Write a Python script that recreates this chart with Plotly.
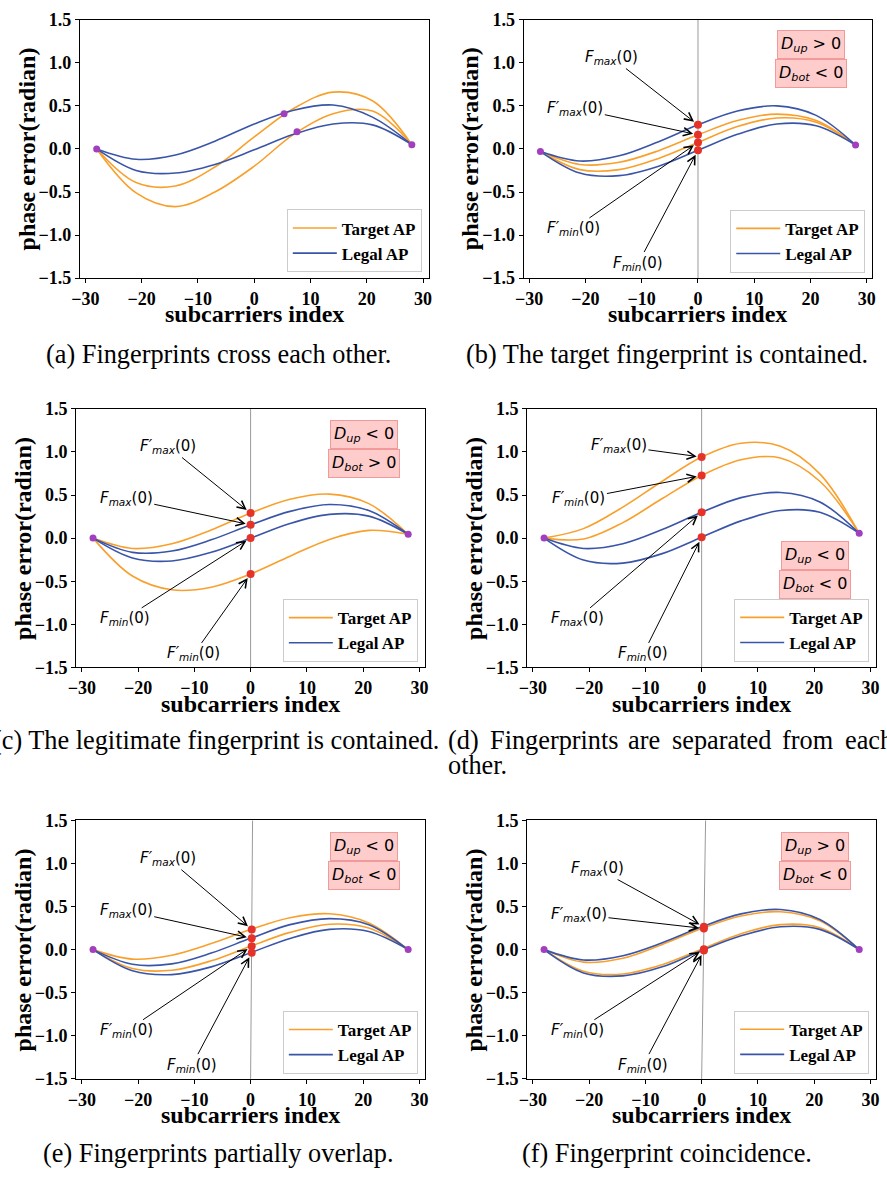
import plotly.graph_objects as go

W, H = 887, 1182

# ---------------- data ----------------
SUBCARRIERS = [-28, -21, -14, -7, 0, 7, 14, 21, 28]
X_TICKS = [-30, -20, -10, 0, 10, 20, 30]
Y_TICKS = [-1.5, -1.0, -0.5, 0.0, 0.5, 1.0, 1.5]

# (a) Fingerprints cross each other
A_TARGET_1 = [0.00, -0.39, -0.43, -0.21, 0.14, 0.47, 0.66, 0.56, 0.05]
A_TARGET_2 = [0.00, -0.51, -0.67, -0.50, -0.20, 0.17, 0.41, 0.44, 0.05]
A_LEGAL_1 = [0.00, -0.12, -0.07, 0.09, 0.29, 0.45, 0.51, 0.37, 0.05]
A_LEGAL_2 = [0.00, -0.25, -0.28, -0.18, -0.01, 0.17, 0.29, 0.28, 0.05]
A_MARK_X = [-28, 5.3, 7.6, 28]
A_MARK_Y = [0.00, 0.41, 0.20, 0.05]

# (b) The target fingerprint is contained
B_TARGET_MAX = [-0.03, -0.18, -0.155, -0.02, 0.164, 0.33, 0.405, 0.33, 0.046]
B_TARGET_MIN = [-0.03, -0.24, -0.24, -0.11, 0.076, 0.26, 0.36, 0.31, 0.046]
B_LEGAL_MAX = [-0.03, -0.14, -0.08, 0.085, 0.28, 0.44, 0.50, 0.39, 0.046]
B_LEGAL_MIN = [-0.03, -0.28, -0.31, -0.20, -0.015, 0.17, 0.29, 0.27, 0.046]
B_END_Y = [-0.03, 0.046]
B_DOT_X = [0.0, 0.0, 0.0, 0.0]
B_DOT_Y = [0.28, 0.164, 0.076, -0.015]   # Fmax, F'max, F'min, Fmin

# (c) The legitimate fingerprint is contained
C_TARGET_MAX = [0.00, -0.12, -0.065, 0.095, 0.29, 0.45, 0.51, 0.40, 0.044]
C_TARGET_MIN = [0.00, -0.44, -0.60, -0.57, -0.416, -0.21, -0.015, 0.09, 0.044]
C_LEGAL_MAX = [0.00, -0.165, -0.15, -0.02, 0.154, 0.31, 0.39, 0.32, 0.044]
C_LEGAL_MIN = [0.00, -0.23, -0.265, -0.165, 0.00, 0.17, 0.275, 0.255, 0.044]
C_END_Y = [0.00, 0.044]
C_DOT_X = [0.0, 0.0, 0.0, 0.0]
C_DOT_Y = [0.29, 0.154, 0.0, -0.416]     # F'max, Fmax, Fmin, F'min

# (d) Fingerprints are separated from each other
D_TARGET_MAX = [0.00, 0.11, 0.36, 0.66, 0.94, 1.10, 1.065, 0.745, 0.055]
D_TARGET_MIN = [0.00, -0.01, 0.18, 0.46, 0.727, 0.91, 0.93, 0.66, 0.055]
D_LEGAL_MAX = [0.00, -0.12, -0.065, 0.10, 0.30, 0.47, 0.53, 0.42, 0.055]
D_LEGAL_MIN = [0.00, -0.255, -0.29, -0.18, 0.01, 0.20, 0.32, 0.30, 0.055]
D_END_Y = [0.00, 0.055]
D_DOT_X = [0.0, 0.0, 0.0, 0.0]
D_DOT_Y = [0.94, 0.727, 0.30, 0.01]      # F'max, F'min, Fmax, Fmin

# (e) Fingerprints partially overlap
E_TARGET_MAX = [0.00, -0.11, -0.065, 0.07, 0.234, 0.37, 0.416, 0.31, 0.00]
E_TARGET_MIN = [0.00, -0.22, -0.24, -0.13, 0.04, 0.20, 0.295, 0.25, 0.00]
E_LEGAL_MAX = [0.00, -0.17, -0.165, -0.04, 0.131, 0.29, 0.36, 0.29, 0.00]
E_LEGAL_MIN = [0.00, -0.245, -0.29, -0.20, -0.036, 0.13, 0.235, 0.21, 0.00]
E_END_Y = [0.00, 0.00]
E_DOT_X = [0.2, 0.2, 0.2, 0.2]
E_DOT_Y = [0.234, 0.131, 0.04, -0.036]   # F'max, Fmax, F'min, Fmin
E_VLINE_X = [0.0, 0.35]

# (f) Fingerprint coincidence
F_TARGET_MAX = [0.00, -0.145, -0.10, 0.06, 0.245, 0.39, 0.44, 0.335, 0.00]
F_TARGET_MIN = [0.00, -0.25, -0.283, -0.175, 0.005, 0.185, 0.29, 0.255, 0.00]
F_LEGAL_MAX = [0.00, -0.12, -0.07, 0.08, 0.265, 0.415, 0.465, 0.35, 0.00]
F_LEGAL_MIN = [0.00, -0.27, -0.305, -0.20, -0.01, 0.16, 0.265, 0.235, 0.00]
F_END_Y = [0.00, 0.00]
F_DOT_X = [0.4, 0.4, 0.4, 0.4]
F_DOT_Y = [0.265, 0.245, 0.005, -0.01]   # Fmax, F'max, F'min, Fmin
F_VLINE_X = [0.0, 0.7]

END_X = [-28, 28]
VLINE_Y = [-1.5, 1.5]
STRAIGHT_VLINE_X = [0.0, 0.0]

CAPTIONS = [
    "(a) Fingerprints cross each other.",
    "(b) The target fingerprint is contained.",
    "(c) The legitimate fingerprint is contained.",
    "(d) Fingerprints are separated from each other.",
    "(e) Fingerprints partially overlap.",
    "(f) Fingerprint coincidence.",
]

# ---------------- styles ----------------
ORANGE = "#f9a02c"
BLUE = "#3a55a8"
PURPLE = "#a23fbe"
RED = "#e5332a"
SERIF = "Liberation Serif"
SANS = "DejaVu Sans"


def flabel(prime, sub):
    return "<i>F" + ("′" if prime else "") + "</i><sub><i>" + sub + "</i></sub>(0)"


def dlabel(sub, rel):
    return "<i>D</i><sub><i>" + sub + "</i></sub> " + rel + " 0"


GT, LT = "&gt;", "&lt;"

panels = [
    dict(box=(72.7, 426.0, 10.0, 272.7),
         target=[A_TARGET_1, A_TARGET_2], legal=[A_LEGAL_1, A_LEGAL_2],
         ends=(A_MARK_X, A_MARK_Y), dots=None, vline=None, labels=[], dbox=None,
         legend=(419, 267)),
    dict(box=(522.0, 875.3, 10.0, 272.7),
         target=[B_TARGET_MAX, B_TARGET_MIN], legal=[B_LEGAL_MAX, B_LEGAL_MIN],
         ends=(END_X, B_END_Y), dots=(B_DOT_X, B_DOT_Y), vline=STRAIGHT_VLINE_X,
         labels=[(flabel(False, "max"), -15.3, 1.062), (flabel(True, "max"), -21.8, 0.472),
                 (flabel(True, "min"), -22.1, -0.929), (flabel(False, "min"), -10.6, -1.325)],
         dbox=[(dlabel("up", GT), 813, 35.5), (dlabel("bot", LT), 813, 65)],
         legend=(868, 267.3)),
    dict(box=(69.0, 422.3, 405.7, 668.7),
         target=[C_TARGET_MAX, C_TARGET_MIN], legal=[C_LEGAL_MAX, C_LEGAL_MIN],
         ends=(END_X, C_END_Y), dots=(C_DOT_X, C_DOT_Y), vline=STRAIGHT_VLINE_X,
         labels=[(flabel(True, "max"), -14.6, 1.063), (flabel(False, "max"), -22.1, 0.462),
                 (flabel(False, "min"), -22.4, -0.937), (flabel(True, "min"), -10.1, -1.344)],
         dbox=[(dlabel("up", LT), 360.5, 431.5), (dlabel("bot", GT), 360, 461.5)],
         legend=(415, 663.3)),
    dict(box=(525.7, 879.0, 405.7, 668.7),
         target=[D_TARGET_MAX, D_TARGET_MIN], legal=[D_LEGAL_MAX, D_LEGAL_MIN],
         ends=(END_X, D_END_Y), dots=(D_DOT_X, D_DOT_Y), vline=STRAIGHT_VLINE_X,
         labels=[(flabel(True, "max"), -14.7, 1.07), (flabel(True, "min"), -21.8, 0.455),
                 (flabel(False, "max"), -22.1, -0.937), (flabel(False, "min"), -10.4, -1.344)],
         dbox=[(dlabel("up", LT), 817, 554.5), (dlabel("bot", LT), 817, 584.3)],
         legend=(872, 663)),
    dict(box=(69.0, 422.3, 824.3, 1087.3),
         target=[E_TARGET_MAX, E_TARGET_MIN], legal=[E_LEGAL_MAX, E_LEGAL_MIN],
         ends=(END_X, E_END_Y), dots=(E_DOT_X, E_DOT_Y), vline=E_VLINE_X,
         labels=[(flabel(True, "max"), -14.6, 1.055), (flabel(False, "max"), -22.1, 0.454),
                 (flabel(True, "min"), -22.0, -0.941), (flabel(False, "min"), -10.4, -1.34)],
         dbox=[(dlabel("up", LT), 360.5, 851), (dlabel("bot", LT), 360, 880)],
         legend=(415, 1082.3)),
    dict(box=(525.7, 879.0, 824.3, 1087.3),
         target=[F_TARGET_MAX, F_TARGET_MIN], legal=[F_LEGAL_MAX, F_LEGAL_MIN],
         ends=(END_X, F_END_Y), dots=(F_DOT_X, F_DOT_Y), vline=F_VLINE_X,
         labels=[(flabel(False, "max"), -18.5, 0.941), (flabel(True, "max"), -21.8, 0.409),
                 (flabel(True, "min"), -22.1, -0.941), (flabel(False, "min"), -10.4, -1.34)],
         dbox=[(dlabel("up", GT), 817, 850.5), (dlabel("bot", LT), 817, 880)],
         legend=(872, 1082)),
]

fig = go.Figure()
annotations = []
layout = dict(width=W, height=H, margin=dict(l=0, r=0, t=0, b=0),
              paper_bgcolor="white", plot_bgcolor="white", showlegend=True)


def px(xp):
    return xp / W


def py(yp):
    return 1 - yp / H


for i, p in enumerate(panels, start=1):
    sfx = "" if i == 1 else str(i)
    xr, yr = "x" + sfx, "y" + sfx
    leg = "legend" + sfx
    l, r, t, b = p["box"]

    if p["vline"] is not None:
        fig.add_trace(go.Scatter(x=p["vline"], y=VLINE_Y, mode="lines",
                                 line=dict(color="#9a9a9a", width=1), showlegend=False,
                                 hoverinfo="skip", xaxis=xr, yaxis=yr))
    for k, ys in enumerate(p["target"]):
        fig.add_trace(go.Scatter(x=SUBCARRIERS, y=ys, mode="lines", name="Target AP",
                                 line=dict(color=ORANGE, width=1.6, shape="spline"),
                                 showlegend=(k == 0), legend=leg, xaxis=xr, yaxis=yr))
    for k, ys in enumerate(p["legal"]):
        fig.add_trace(go.Scatter(x=SUBCARRIERS, y=ys, mode="lines", name="Legal AP",
                                 line=dict(color=BLUE, width=1.6, shape="spline"),
                                 showlegend=(k == 0), legend=leg, xaxis=xr, yaxis=yr))
    if p["dots"] is not None:
        fig.add_trace(go.Scatter(x=p["dots"][0], y=p["dots"][1], mode="markers",
                                 marker=dict(color=RED, size=8), showlegend=False,
                                 xaxis=xr, yaxis=yr))
    fig.add_trace(go.Scatter(x=p["ends"][0], y=p["ends"][1], mode="markers",
                             marker=dict(color=PURPLE, size=7), showlegend=False,
                             xaxis=xr, yaxis=yr))

    axis_common = dict(showline=True, linecolor="black", linewidth=1, mirror=True,
                       ticks="outside", ticklen=4, tickwidth=1, tickcolor="black",
                       showgrid=False, zeroline=False,
                       tickfont=dict(family=SERIF, size=18, color="black", weight="bold"))
    layout["xaxis" + sfx] = dict(domain=[px(l), px(r)], range=[-31, 31], tickvals=X_TICKS,
                                 anchor=yr, **axis_common)
    layout["yaxis" + sfx] = dict(domain=[py(b), py(t)], range=[-1.5, 1.5], tickvals=Y_TICKS,
                                 tickformat=".1f", anchor=xr, **axis_common)
    layout[leg] = dict(x=px(p["legend"][0]), y=py(p["legend"][1]), xanchor="right",
                       yanchor="bottom", bgcolor="white", bordercolor="#cccccc", borderwidth=1,
                       font=dict(family=SERIF, size=17, color="black", weight="bold"),
                       tracegroupgap=0, itemwidth=44)

    # axis titles
    annotations.append(dict(text="subcarriers index", x=px((l + r) / 2), y=py(b + 37),
                            xref="paper", yref="paper", showarrow=False,
                            xanchor="center", yanchor="middle",
                            font=dict(family=SERIF, size=24, color="black", weight="bold")))
    annotations.append(dict(text="phase error(radian)", x=px(l - 54), y=py((t + b) / 2),
                            xref="paper", yref="paper", showarrow=False, textangle=-90,
                            xanchor="center", yanchor="middle",
                            font=dict(family=SERIF, size=24, color="black", weight="bold")))

    # arrow labels
    if p["dots"] is not None:
        for (txt, lx, ly), tx, ty in zip(p["labels"], p["dots"][0], p["dots"][1]):
            annotations.append(dict(text=txt, x=tx, y=ty, xref=xr, yref=yr,
                                    ax=lx, ay=ly, axref=xr, ayref=yr, showarrow=True,
                                    arrowhead=5, arrowsize=1.6, arrowwidth=1,
                                    arrowcolor="black", standoff=5,
                                    font=dict(family=SANS, size=15, color="black")))
    if p["dbox"] is not None:
        for txt, bx, by in p["dbox"]:
            annotations.append(dict(text=txt, x=px(bx), y=py(by), xref="paper", yref="paper",
                                    showarrow=False, xanchor="center", yanchor="middle",
                                    bgcolor="#ffcccc", bordercolor="#f29a9a", borderwidth=1,
                                    borderpad=3,
                                    font=dict(family=SANS, size=16, color="black")))

# captions
cap_font = dict(family=SERIF, size=26.3, color="black")
annotations.append(dict(text=CAPTIONS[0], x=px(213), y=py(350), xref="paper", yref="paper",
                        showarrow=False, xanchor="center", yanchor="middle", font=cap_font))
annotations.append(dict(text=CAPTIONS[1], x=px(667), y=py(350), xref="paper", yref="paper",
                        showarrow=False, xanchor="center", yanchor="middle", font=cap_font))
annotations.append(dict(text=CAPTIONS[2], x=px(438), y=py(743), xref="paper", yref="paper",
                        showarrow=False, xanchor="right", yanchor="middle", font=cap_font))
d_words = CAPTIONS[3].split(" ")
d_x = [443, 486, 626, 670, 782, 845, 444]
for k, wd in enumerate(d_words):
    yy = 743 if k < 6 else 768
    annotations.append(dict(text=wd, x=px(d_x[k]), y=py(yy), xref="paper", yref="paper",
                            showarrow=False, xanchor="left", yanchor="middle", font=cap_font))
annotations.append(dict(text=CAPTIONS[4], x=px(213), y=py(1163), xref="paper", yref="paper",
                        showarrow=False, xanchor="center", yanchor="middle", font=cap_font))
annotations.append(dict(text=CAPTIONS[5], x=px(667), y=py(1163), xref="paper", yref="paper",
                        showarrow=False, xanchor="center", yanchor="middle", font=cap_font))

layout["annotations"] = annotations
fig.update_layout(**layout)
fig.write_html("out.html", config={"displayModeBar": False},
               post_script="document.body.style.margin='0px';"
                           "document.body.style.overflow='hidden';")
